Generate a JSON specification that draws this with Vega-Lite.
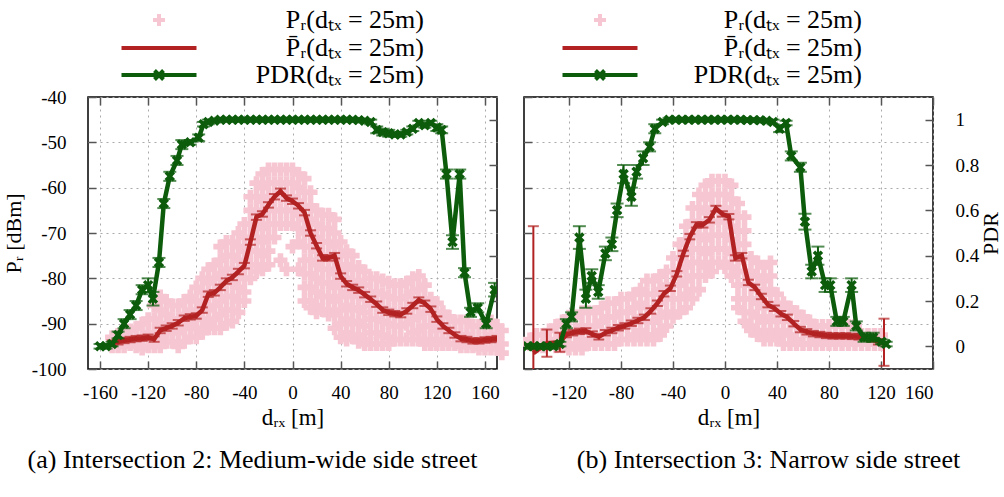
{
"$schema":"https://vega.github.io/schema/vega-lite/v6.json",
"padding":{"left":1,"top":6,"right":0,"bottom":0},
"background":"white",
"config":{"font":"Liberation Serif","view":{"stroke":"#000","strokeWidth":1.5},
"axis":{"labelFont":"Liberation Serif","labelFontSize":19,"labelColor":"#000","titleFont":"Liberation Serif","titleFontSize":23,"titleFontWeight":"normal","titleColor":"#000","domain":false,"tickColor":"#555","tickWidth":1.5,"tickSize":-8,"gridColor":"#aaa","gridDash":[2,4],"gridWidth":1,"labelOverlap":false,"labelBound":false},
"title":{"font":"Liberation Serif","fontSize":26,"fontWeight":"normal","color":"#000"}},
"datasets":{
"a_pr":[
{"d":-150,"p":-93},{"d":-150,"p":-95},
{"d":-145,"p":-92.5},{"d":-145,"p":-95},
{"d":-140,"p":-92},{"d":-140,"p":-95},
{"d":-135,"p":-91.5},{"d":-135,"p":-94.5},
{"d":-130,"p":-91},{"d":-130,"p":-94},{"d":-130,"p":-95},
{"d":-125,"p":-90},{"d":-125,"p":-93},{"d":-125,"p":-95.5},
{"d":-120,"p":-89},{"d":-120,"p":-92},{"d":-120,"p":-95},
{"d":-115,"p":-86},{"d":-115,"p":-89},{"d":-115,"p":-92},{"d":-115,"p":-95},
{"d":-110,"p":-84},{"d":-110,"p":-87},{"d":-110,"p":-90},{"d":-110,"p":-93},{"d":-110,"p":-95},
{"d":-105,"p":-85},{"d":-105,"p":-88},{"d":-105,"p":-91},{"d":-105,"p":-94},
{"d":-100,"p":-86},{"d":-100,"p":-89},{"d":-100,"p":-92},{"d":-100,"p":-94},
{"d":-95,"p":-86},{"d":-95,"p":-89},{"d":-95,"p":-92},{"d":-95,"p":-95},
{"d":-90,"p":-85},{"d":-90,"p":-88},{"d":-90,"p":-91},{"d":-90,"p":-94},
{"d":-85,"p":-84},{"d":-85,"p":-87},{"d":-85,"p":-90},{"d":-85,"p":-93},
{"d":-80,"p":-82},{"d":-80,"p":-85},{"d":-80,"p":-88},{"d":-80,"p":-91},{"d":-80,"p":-93},
{"d":-75,"p":-80},{"d":-75,"p":-83},{"d":-75,"p":-86},{"d":-75,"p":-89},{"d":-75,"p":-92},
{"d":-70,"p":-78},{"d":-70,"p":-81},{"d":-70,"p":-84},{"d":-70,"p":-87},{"d":-70,"p":-90},{"d":-70,"p":-91},
{"d":-65,"p":-77},{"d":-65,"p":-80},{"d":-65,"p":-83},{"d":-65,"p":-86},{"d":-65,"p":-89},{"d":-65,"p":-91},
{"d":-60,"p":-73},{"d":-60,"p":-76},{"d":-60,"p":-79},{"d":-60,"p":-82},{"d":-60,"p":-85},{"d":-60,"p":-88},{"d":-60,"p":-91},
{"d":-55,"p":-72},{"d":-55,"p":-75},{"d":-55,"p":-78},{"d":-55,"p":-81},{"d":-55,"p":-84},{"d":-55,"p":-87},{"d":-55,"p":-90},
{"d":-50,"p":-72},{"d":-50,"p":-75},{"d":-50,"p":-78},{"d":-50,"p":-81},{"d":-50,"p":-84},{"d":-50,"p":-87},{"d":-50,"p":-89.5},
{"d":-45,"p":-70},{"d":-45,"p":-73},{"d":-45,"p":-76},{"d":-45,"p":-79},{"d":-45,"p":-82},{"d":-45,"p":-85},{"d":-45,"p":-87.5},
{"d":-40,"p":-68},{"d":-40,"p":-71},{"d":-40,"p":-74},{"d":-40,"p":-77},{"d":-40,"p":-80},{"d":-40,"p":-83},{"d":-40,"p":-85},
{"d":-35,"p":-62},{"d":-35,"p":-65},{"d":-35,"p":-68},{"d":-35,"p":-71},{"d":-35,"p":-74},{"d":-35,"p":-77},{"d":-35,"p":-80},
{"d":-30,"p":-59},{"d":-30,"p":-62},{"d":-30,"p":-65},{"d":-30,"p":-68},{"d":-30,"p":-71},{"d":-30,"p":-74},{"d":-30,"p":-77},{"d":-30,"p":-78.5},
{"d":-25,"p":-57},{"d":-25,"p":-60},{"d":-25,"p":-63},{"d":-25,"p":-66},{"d":-25,"p":-69},{"d":-25,"p":-72},{"d":-25,"p":-75},{"d":-25,"p":-78},
{"d":-20,"p":-56},{"d":-20,"p":-59},{"d":-20,"p":-62},{"d":-20,"p":-65},{"d":-20,"p":-68},{"d":-20,"p":-71},{"d":-20,"p":-74},{"d":-20,"p":-77},
{"d":-15,"p":-56},{"d":-15,"p":-59},{"d":-15,"p":-62},{"d":-15,"p":-65},{"d":-15,"p":-68},{"d":-15,"p":-71},
{"d":-10,"p":-56},{"d":-10,"p":-59},{"d":-10,"p":-62},{"d":-10,"p":-65},{"d":-10,"p":-68},{"d":-10,"p":-76},
{"d":-5,"p":-56},{"d":-5,"p":-59},{"d":-5,"p":-62},{"d":-5,"p":-65},{"d":-5,"p":-68},{"d":-5,"p":-78},
{"d":0,"p":-56},{"d":0,"p":-59},{"d":0,"p":-62},{"d":0,"p":-65},{"d":0,"p":-68},{"d":0,"p":-73},
{"d":5,"p":-57},{"d":5,"p":-60},{"d":5,"p":-63},{"d":5,"p":-66},{"d":5,"p":-69},{"d":5,"p":-72},{"d":5,"p":-78},
{"d":10,"p":-58},{"d":10,"p":-61},{"d":10,"p":-64},{"d":10,"p":-67},{"d":10,"p":-70},{"d":10,"p":-73},{"d":10,"p":-76},{"d":10,"p":-79},{"d":10,"p":-82},{"d":10,"p":-85},
{"d":15,"p":-61},{"d":15,"p":-64},{"d":15,"p":-67},{"d":15,"p":-70},{"d":15,"p":-73},{"d":15,"p":-76},{"d":15,"p":-79},{"d":15,"p":-82},{"d":15,"p":-85},{"d":15,"p":-86.5},
{"d":20,"p":-65},{"d":20,"p":-68},{"d":20,"p":-71},{"d":20,"p":-74},{"d":20,"p":-77},{"d":20,"p":-80},{"d":20,"p":-83},{"d":20,"p":-86},{"d":20,"p":-87.5},
{"d":25,"p":-66},{"d":25,"p":-69},{"d":25,"p":-72},{"d":25,"p":-75},{"d":25,"p":-78},{"d":25,"p":-81},{"d":25,"p":-84},{"d":25,"p":-87},
{"d":30,"p":-66},{"d":30,"p":-69},{"d":30,"p":-72},{"d":30,"p":-75},{"d":30,"p":-78},{"d":30,"p":-81},{"d":30,"p":-84},{"d":30,"p":-87},{"d":30,"p":-88},
{"d":35,"p":-67},{"d":35,"p":-70},{"d":35,"p":-73},{"d":35,"p":-76},{"d":35,"p":-79},{"d":35,"p":-82},{"d":35,"p":-85},{"d":35,"p":-88},{"d":35,"p":-91},
{"d":40,"p":-72},{"d":40,"p":-75},{"d":40,"p":-78},{"d":40,"p":-81},{"d":40,"p":-84},{"d":40,"p":-87},{"d":40,"p":-90},{"d":40,"p":-93},
{"d":45,"p":-74},{"d":45,"p":-77},{"d":45,"p":-80},{"d":45,"p":-83},{"d":45,"p":-86},{"d":45,"p":-89},{"d":45,"p":-92},{"d":45,"p":-93.5},
{"d":50,"p":-75},{"d":50,"p":-78},{"d":50,"p":-81},{"d":50,"p":-84},{"d":50,"p":-87},{"d":50,"p":-90},{"d":50,"p":-93},
{"d":55,"p":-77.5},{"d":55,"p":-80.5},{"d":55,"p":-83.5},{"d":55,"p":-86.5},{"d":55,"p":-89.5},{"d":55,"p":-92.5},{"d":55,"p":-94},
{"d":60,"p":-78.5},{"d":60,"p":-81.5},{"d":60,"p":-84.5},{"d":60,"p":-87.5},{"d":60,"p":-90.5},{"d":60,"p":-93.5},{"d":60,"p":-94.5},
{"d":65,"p":-80},{"d":65,"p":-83},{"d":65,"p":-86},{"d":65,"p":-89},{"d":65,"p":-92},{"d":65,"p":-94.5},
{"d":70,"p":-80},{"d":70,"p":-83},{"d":70,"p":-86},{"d":70,"p":-89},{"d":70,"p":-92},{"d":70,"p":-94.5},
{"d":75,"p":-80.5},{"d":75,"p":-83.5},{"d":75,"p":-86.5},{"d":75,"p":-89.5},{"d":75,"p":-92.5},{"d":75,"p":-94.5},
{"d":80,"p":-81},{"d":80,"p":-84},{"d":80,"p":-87},{"d":80,"p":-90},{"d":80,"p":-93},{"d":80,"p":-94.5},
{"d":85,"p":-81.5},{"d":85,"p":-84.5},{"d":85,"p":-87.5},{"d":85,"p":-90.5},{"d":85,"p":-93.5},
{"d":90,"p":-81.5},{"d":90,"p":-84.5},{"d":90,"p":-87.5},{"d":90,"p":-90.5},{"d":90,"p":-93.5},
{"d":95,"p":-81},{"d":95,"p":-84},{"d":95,"p":-87},{"d":95,"p":-90},{"d":95,"p":-93.5},
{"d":100,"p":-80},{"d":100,"p":-83},{"d":100,"p":-86},{"d":100,"p":-89},{"d":100,"p":-92},{"d":100,"p":-93.5},
{"d":105,"p":-79.5},{"d":105,"p":-82.5},{"d":105,"p":-85.5},{"d":105,"p":-88.5},{"d":105,"p":-91.5},{"d":105,"p":-93.5},
{"d":110,"p":-81.5},{"d":110,"p":-84.5},{"d":110,"p":-87.5},{"d":110,"p":-90.5},{"d":110,"p":-93.5},{"d":110,"p":-94.5},
{"d":115,"p":-84.5},{"d":115,"p":-87.5},{"d":115,"p":-90.5},{"d":115,"p":-93.5},{"d":115,"p":-94.5},
{"d":120,"p":-85.5},{"d":120,"p":-88.5},{"d":120,"p":-91.5},{"d":120,"p":-94.5},
{"d":125,"p":-87.5},{"d":125,"p":-90.5},{"d":125,"p":-93.5},{"d":125,"p":-94.5},
{"d":130,"p":-88.5},{"d":130,"p":-91.5},{"d":130,"p":-94.5},
{"d":135,"p":-89.5},{"d":135,"p":-92.5},{"d":135,"p":-94.5},
{"d":140,"p":-89.5},{"d":140,"p":-92.5},{"d":140,"p":-95},
{"d":145,"p":-89.5},{"d":145,"p":-92.5},{"d":145,"p":-95},
{"d":150,"p":-90.5},{"d":150,"p":-93.5},{"d":150,"p":-95},
{"d":155,"p":-90.5},{"d":155,"p":-93.5},{"d":155,"p":-95.5},
{"d":160,"p":-90.5},{"d":160,"p":-93.5},{"d":160,"p":-95.5},
{"d":165,"p":-89.5},{"d":165,"p":-92.5},{"d":165,"p":-95.5},
{"d":170,"p":-90.5},{"d":170,"p":-93.5},{"d":170,"p":-95.5},
{"d":174,"p":-91.5},{"d":174,"p":-94.5},{"d":174,"p":-96.5}
],
"a_mean":[
{"d":-150,"m":-94.3,"e":0.6},{"d":-145,"m":-94.0,"e":0.6},{"d":-140,"m":-93.7,"e":0.6},{"d":-135,"m":-93.5,"e":0.6},{"d":-130,"m":-93.3,"e":0.6},{"d":-125,"m":-93.2,"e":0.6},{"d":-120,"m":-93.0,"e":0.6},{"d":-115,"m":-93.4,"e":0.6},{"d":-110,"m":-91.5,"e":0.6},{"d":-105,"m":-91.0,"e":0.6},{"d":-100,"m":-90.5,"e":0.6},{"d":-95,"m":-89.8,"e":0.6},{"d":-90,"m":-88.8,"e":0.6},{"d":-85,"m":-88.5,"e":0.6},{"d":-80,"m":-88.3,"e":0.6},{"d":-75,"m":-87.0,"e":0.6},{"d":-70,"m":-83.5,"e":0.6},{"d":-65,"m":-83.2,"e":0.6},{"d":-60,"m":-82.0,"e":0.6},{"d":-55,"m":-80.6,"e":0.6},{"d":-50,"m":-79.8,"e":0.6},{"d":-45,"m":-78.5,"e":0.6},{"d":-40,"m":-77.2,"e":0.6},{"d":-35,"m":-72.0,"e":0.6},{"d":-30,"m":-66.5,"e":0.6},{"d":-25,"m":-65.8,"e":0.6},{"d":-20,"m":-63.8,"e":0.6},{"d":-15,"m":-62.0,"e":0.6},{"d":-10,"m":-60.8,"e":0.6},{"d":-5,"m":-62.3,"e":0.6},{"d":0,"m":-63.0,"e":0.6},{"d":5,"m":-64.0,"e":0.6},{"d":10,"m":-65.5,"e":0.6},{"d":15,"m":-70.0,"e":0.6},{"d":20,"m":-72.8,"e":0.6},{"d":25,"m":-75.5,"e":0.6},{"d":30,"m":-75.5,"e":0.6},{"d":35,"m":-75.0,"e":0.6},{"d":40,"m":-79.5,"e":0.6},{"d":45,"m":-81.2,"e":0.6},{"d":50,"m":-82.0,"e":0.6},{"d":55,"m":-82.6,"e":0.6},{"d":60,"m":-83.6,"e":0.6},{"d":65,"m":-84.6,"e":0.6},{"d":70,"m":-85.7,"e":0.6},{"d":75,"m":-87.0,"e":0.6},{"d":80,"m":-87.5,"e":0.6},{"d":85,"m":-87.8,"e":0.6},{"d":90,"m":-88.0,"e":0.6},{"d":95,"m":-87.2,"e":0.6},{"d":100,"m":-86.0,"e":0.6},{"d":105,"m":-84.8,"e":0.6},{"d":110,"m":-85.5,"e":0.6},{"d":115,"m":-86.8,"e":0.6},{"d":120,"m":-89.0,"e":0.6},{"d":125,"m":-90.5,"e":0.6},{"d":130,"m":-91.5,"e":0.6},{"d":135,"m":-92.5,"e":0.6},{"d":140,"m":-93.3,"e":0.6},{"d":145,"m":-93.5,"e":0.6},{"d":150,"m":-93.8,"e":0.6},{"d":155,"m":-93.8,"e":0.6},{"d":160,"m":-93.6,"e":0.6},{"d":165,"m":-93.5,"e":0.6},{"d":170,"m":-93.3,"e":0.6}
],
"a_pdr":[
{"d":-160,"v":0.0,"e":0.01},{"d":-155,"v":0.0,"e":0.01},{"d":-150,"v":0.01,"e":0.01},{"d":-145,"v":0.05,"e":0.015},{"d":-140,"v":0.10,"e":0.02},{"d":-135,"v":0.14,"e":0.02},{"d":-130,"v":0.18,"e":0.02},{"d":-125,"v":0.25,"e":0.02},{"d":-120,"v":0.27,"e":0.03},{"d":-116,"v":0.21,"e":0.03},{"d":-111,"v":0.37,"e":0.02},{"d":-107,"v":0.63,"e":0.02},{"d":-102,"v":0.75,"e":0.02},{"d":-96,"v":0.82,"e":0.02},{"d":-92,"v":0.89,"e":0.02},{"d":-85,"v":0.90,"e":0.01},{"d":-78,"v":0.92,"e":0.015},{"d":-74,"v":0.98,"e":0.01},{"d":-70,"v":0.99,"e":0.01},{"d":-65,"v":0.995,"e":0.008},{"d":-60,"v":1.0,"e":0.008},{"d":-55,"v":1.0,"e":0.008},{"d":-50,"v":1.0,"e":0.008},{"d":-45,"v":1.0,"e":0.008},{"d":-40,"v":1.0,"e":0.008},{"d":-35,"v":1.0,"e":0.008},{"d":-30,"v":1.0,"e":0.008},{"d":-25,"v":1.0,"e":0.008},{"d":-20,"v":1.0,"e":0.008},{"d":-15,"v":1.0,"e":0.008},{"d":-10,"v":1.0,"e":0.008},{"d":-5,"v":1.0,"e":0.008},{"d":0,"v":1.0,"e":0.008},{"d":5,"v":1.0,"e":0.008},{"d":10,"v":1.0,"e":0.008},{"d":15,"v":1.0,"e":0.008},{"d":20,"v":1.0,"e":0.008},{"d":25,"v":1.0,"e":0.008},{"d":30,"v":1.0,"e":0.008},{"d":35,"v":1.0,"e":0.008},{"d":40,"v":1.0,"e":0.008},{"d":45,"v":1.0,"e":0.008},{"d":50,"v":1.0,"e":0.008},{"d":55,"v":0.998,"e":0.008},{"d":60,"v":0.995,"e":0.008},{"d":65,"v":0.99,"e":0.01},{"d":70,"v":0.955,"e":0.015},{"d":75,"v":0.945,"e":0.015},{"d":80,"v":0.94,"e":0.015},{"d":85,"v":0.935,"e":0.01},{"d":90,"v":0.935,"e":0.01},{"d":95,"v":0.945,"e":0.01},{"d":100,"v":0.96,"e":0.01},{"d":105,"v":0.985,"e":0.01},{"d":110,"v":0.975,"e":0.01},{"d":115,"v":0.985,"e":0.01},{"d":120,"v":0.965,"e":0.015},{"d":124,"v":0.955,"e":0.015},{"d":128,"v":0.76,"e":0.02},{"d":133,"v":0.46,"e":0.03},{"d":139,"v":0.76,"e":0.02},{"d":143,"v":0.325,"e":0.02},{"d":148,"v":0.15,"e":0.02},{"d":154,"v":0.17,"e":0.02},{"d":161,"v":0.10,"e":0.02},{"d":168,"v":0.25,"e":0.03}
],
"b_pr":[
{"d":-150,"p":-93.5},{"d":-150,"p":-94.5},
{"d":-145,"p":-92.5},{"d":-145,"p":-95},
{"d":-140,"p":-92.5},{"d":-140,"p":-95},
{"d":-135,"p":-91.5},{"d":-135,"p":-94.5},
{"d":-130,"p":-90.5},{"d":-130,"p":-93.5},{"d":-130,"p":-95},
{"d":-125,"p":-89.5},{"d":-125,"p":-92.5},{"d":-125,"p":-95},
{"d":-120,"p":-88.5},{"d":-120,"p":-91.5},{"d":-120,"p":-94.5},{"d":-120,"p":-95.5},
{"d":-115,"p":-88.5},{"d":-115,"p":-91.5},{"d":-115,"p":-94.5},{"d":-115,"p":-95.5},
{"d":-110,"p":-87.5},{"d":-110,"p":-90.5},{"d":-110,"p":-93.5},{"d":-110,"p":-95.5},
{"d":-105,"p":-87.5},{"d":-105,"p":-90.5},{"d":-105,"p":-93.5},{"d":-105,"p":-94.5},
{"d":-100,"p":-87.5},{"d":-100,"p":-90.5},{"d":-100,"p":-93.5},{"d":-100,"p":-94.5},
{"d":-95,"p":-86.5},{"d":-95,"p":-89.5},{"d":-95,"p":-92.5},{"d":-95,"p":-94.5},
{"d":-90,"p":-85.5},{"d":-90,"p":-88.5},{"d":-90,"p":-91.5},{"d":-90,"p":-94.5},
{"d":-85,"p":-85.5},{"d":-85,"p":-88.5},{"d":-85,"p":-91.5},{"d":-85,"p":-94.5},
{"d":-80,"p":-84.5},{"d":-80,"p":-87.5},{"d":-80,"p":-90.5},{"d":-80,"p":-93.5},
{"d":-75,"p":-84.5},{"d":-75,"p":-87.5},{"d":-75,"p":-90.5},{"d":-75,"p":-93.5},
{"d":-70,"p":-83.5},{"d":-70,"p":-86.5},{"d":-70,"p":-89.5},{"d":-70,"p":-92.5},{"d":-70,"p":-93.5},
{"d":-65,"p":-82.5},{"d":-65,"p":-85.5},{"d":-65,"p":-88.5},{"d":-65,"p":-91.5},{"d":-65,"p":-93.5},
{"d":-60,"p":-80.5},{"d":-60,"p":-83.5},{"d":-60,"p":-86.5},{"d":-60,"p":-89.5},{"d":-60,"p":-92.5},{"d":-60,"p":-93.5},
{"d":-55,"p":-80.5},{"d":-55,"p":-83.5},{"d":-55,"p":-86.5},{"d":-55,"p":-89.5},{"d":-55,"p":-92.5},{"d":-55,"p":-93.5},
{"d":-50,"p":-79.5},{"d":-50,"p":-82.5},{"d":-50,"p":-85.5},{"d":-50,"p":-88.5},{"d":-50,"p":-91.5},{"d":-50,"p":-92.5},
{"d":-45,"p":-78.5},{"d":-45,"p":-81.5},{"d":-45,"p":-84.5},{"d":-45,"p":-87.5},{"d":-45,"p":-90.5},
{"d":-40,"p":-75.5},{"d":-40,"p":-78.5},{"d":-40,"p":-81.5},{"d":-40,"p":-84.5},{"d":-40,"p":-87.5},{"d":-40,"p":-88.5},
{"d":-35,"p":-72.5},{"d":-35,"p":-75.5},{"d":-35,"p":-78.5},{"d":-35,"p":-81.5},{"d":-35,"p":-84.5},{"d":-35,"p":-87.5},
{"d":-30,"p":-68.5},{"d":-30,"p":-71.5},{"d":-30,"p":-74.5},{"d":-30,"p":-77.5},{"d":-30,"p":-80.5},{"d":-30,"p":-83.5},{"d":-30,"p":-86.5},
{"d":-25,"p":-64.5},{"d":-25,"p":-67.5},{"d":-25,"p":-70.5},{"d":-25,"p":-73.5},{"d":-25,"p":-76.5},{"d":-25,"p":-79.5},{"d":-25,"p":-82.5},{"d":-25,"p":-84.5},
{"d":-20,"p":-61.5},{"d":-20,"p":-64.5},{"d":-20,"p":-67.5},{"d":-20,"p":-70.5},{"d":-20,"p":-73.5},{"d":-20,"p":-76.5},{"d":-20,"p":-79.5},{"d":-20,"p":-82.5},
{"d":-15,"p":-59.5},{"d":-15,"p":-62.5},{"d":-15,"p":-65.5},{"d":-15,"p":-68.5},{"d":-15,"p":-71.5},{"d":-15,"p":-74.5},{"d":-15,"p":-77.5},{"d":-15,"p":-79.5},
{"d":-10,"p":-58.5},{"d":-10,"p":-61.5},{"d":-10,"p":-64.5},{"d":-10,"p":-67.5},{"d":-10,"p":-70.5},{"d":-10,"p":-73.5},{"d":-10,"p":-76.5},{"d":-10,"p":-78.5},
{"d":-5,"p":-58.5},{"d":-5,"p":-61.5},{"d":-5,"p":-64.5},{"d":-5,"p":-67.5},{"d":-5,"p":-70.5},{"d":-5,"p":-73.5},{"d":-5,"p":-76.5},
{"d":0,"p":-58.5},{"d":0,"p":-61.5},{"d":0,"p":-64.5},{"d":0,"p":-67.5},{"d":0,"p":-70.5},{"d":0,"p":-73.5},{"d":0,"p":-76.5},{"d":0,"p":-77.5},
{"d":5,"p":-59.5},{"d":5,"p":-62.5},{"d":5,"p":-65.5},{"d":5,"p":-68.5},{"d":5,"p":-71.5},{"d":5,"p":-74.5},{"d":5,"p":-77.5},{"d":5,"p":-79.5},
{"d":10,"p":-63.5},{"d":10,"p":-66.5},{"d":10,"p":-69.5},{"d":10,"p":-72.5},{"d":10,"p":-75.5},{"d":10,"p":-78.5},{"d":10,"p":-81.5},{"d":10,"p":-84.5},{"d":10,"p":-86.5},
{"d":15,"p":-66.5},{"d":15,"p":-69.5},{"d":15,"p":-72.5},{"d":15,"p":-75.5},{"d":15,"p":-78.5},{"d":15,"p":-81.5},{"d":15,"p":-84.5},{"d":15,"p":-87.5},{"d":15,"p":-89.5},
{"d":20,"p":-75.5},{"d":20,"p":-78.5},{"d":20,"p":-81.5},{"d":20,"p":-84.5},{"d":20,"p":-87.5},{"d":20,"p":-90.5},{"d":20,"p":-91.5},
{"d":25,"p":-76.5},{"d":25,"p":-79.5},{"d":25,"p":-82.5},{"d":25,"p":-85.5},{"d":25,"p":-88.5},{"d":25,"p":-91.5},{"d":25,"p":-92.5},
{"d":30,"p":-77.5},{"d":30,"p":-80.5},{"d":30,"p":-83.5},{"d":30,"p":-86.5},{"d":30,"p":-89.5},{"d":30,"p":-92.5},{"d":30,"p":-93.5},
{"d":35,"p":-76.5},{"d":35,"p":-79.5},{"d":35,"p":-82.5},{"d":35,"p":-85.5},{"d":35,"p":-88.5},{"d":35,"p":-91.5},{"d":35,"p":-93.5},
{"d":40,"p":-83.5},{"d":40,"p":-86.5},{"d":40,"p":-89.5},{"d":40,"p":-92.5},{"d":40,"p":-93.5},
{"d":45,"p":-85.5},{"d":45,"p":-88.5},{"d":45,"p":-91.5},{"d":45,"p":-94.5},
{"d":50,"p":-86.5},{"d":50,"p":-89.5},{"d":50,"p":-92.5},{"d":50,"p":-94.5},
{"d":55,"p":-87.5},{"d":55,"p":-90.5},{"d":55,"p":-93.5},{"d":55,"p":-94.5},
{"d":60,"p":-88.5},{"d":60,"p":-91.5},{"d":60,"p":-94.5},
{"d":65,"p":-89.5},{"d":65,"p":-92.5},{"d":65,"p":-94.5},
{"d":70,"p":-90.5},{"d":70,"p":-93.5},{"d":70,"p":-94.5},
{"d":75,"p":-90.5},{"d":75,"p":-93.5},{"d":75,"p":-94.5},
{"d":80,"p":-90.5},{"d":80,"p":-93.5},{"d":80,"p":-94.5},
{"d":85,"p":-90.5},{"d":85,"p":-93.5},{"d":85,"p":-94.5},
{"d":90,"p":-90.5},{"d":90,"p":-93.5},{"d":90,"p":-94.5},
{"d":95,"p":-90.5},{"d":95,"p":-93.5},{"d":95,"p":-94.5},
{"d":100,"p":-90.5},{"d":100,"p":-93.5},{"d":100,"p":-94.5},
{"d":105,"p":-92.5},{"d":105,"p":-94.5},
{"d":110,"p":-92.5},{"d":110,"p":-94.5},
{"d":115,"p":-92.5},{"d":115,"p":-94.5},
{"d":120,"p":-92.5},{"d":120,"p":-94.5}
],
"b_mean":[
{"d":-147.4,"m":-96.5,"e":28},{"d":-137,"m":-94.3,"e":3},{"d":-127,"m":-94.1,"e":2.1},{"d":-122,"m":-92.4,"e":0.6},{"d":-117,"m":-92.0,"e":0.6},{"d":-112,"m":-91.7,"e":0.6},{"d":-107,"m":-91.6,"e":0.6},{"d":-102,"m":-92.3,"e":0.6},{"d":-97,"m":-92.9,"e":0.6},{"d":-92,"m":-92.0,"e":0.6},{"d":-87,"m":-91.5,"e":0.6},{"d":-82,"m":-90.9,"e":0.6},{"d":-77,"m":-90.5,"e":0.6},{"d":-72,"m":-89.9,"e":0.6},{"d":-67,"m":-89.3,"e":0.6},{"d":-62,"m":-88.6,"e":0.6},{"d":-57,"m":-87.2,"e":0.6},{"d":-52,"m":-85.5,"e":0.6},{"d":-47,"m":-83.4,"e":0.6},{"d":-42,"m":-82.2,"e":0.6},{"d":-37,"m":-79.0,"e":0.6},{"d":-32,"m":-74.5,"e":0.6},{"d":-27,"m":-70.8,"e":0.6},{"d":-22,"m":-68.2,"e":0.6},{"d":-17,"m":-68.2,"e":0.6},{"d":-12,"m":-67.1,"e":0.6},{"d":-7,"m":-64.6,"e":0.6},{"d":-2,"m":-65.8,"e":0.6},{"d":3,"m":-66.4,"e":0.6},{"d":8,"m":-75.5,"e":0.6},{"d":13,"m":-75.0,"e":0.6},{"d":18,"m":-80.9,"e":0.6},{"d":23,"m":-82.0,"e":0.6},{"d":28,"m":-84.0,"e":0.6},{"d":33,"m":-85.8,"e":0.6},{"d":38,"m":-86.6,"e":0.6},{"d":43,"m":-87.8,"e":0.6},{"d":48,"m":-88.6,"e":0.6},{"d":53,"m":-90.0,"e":0.6},{"d":58,"m":-91.3,"e":0.6},{"d":63,"m":-91.8,"e":0.6},{"d":68,"m":-92.2,"e":0.6},{"d":73,"m":-92.4,"e":0.6},{"d":78,"m":-92.6,"e":0.6},{"d":83,"m":-92.7,"e":0.6},{"d":88,"m":-92.7,"e":0.6},{"d":93,"m":-92.7,"e":0.6},{"d":98,"m":-92.8,"e":0.6},{"d":103,"m":-92.9,"e":0.6},{"d":108,"m":-93.1,"e":0.6},{"d":113,"m":-93.4,"e":0.6},{"d":118,"m":-94.0,"e":0.6},{"d":122.3,"m":-94.1,"e":5.2}
],
"b_pdr":[
{"d":-152,"v":0.0,"e":0.01},{"d":-147,"v":0.0,"e":0.01},{"d":-142,"v":0.0,"e":0.01},{"d":-137,"v":0.0,"e":0.01},{"d":-132,"v":0.0,"e":0.01},{"d":-127,"v":0.01,"e":0.01},{"d":-122,"v":0.10,"e":0.02},{"d":-118,"v":0.13,"e":0.02},{"d":-112,"v":0.48,"e":0.05},{"d":-107,"v":0.21,"e":0.04},{"d":-102.5,"v":0.31,"e":0.03},{"d":-97.5,"v":0.24,"e":0.03},{"d":-92,"v":0.41,"e":0.03},{"d":-87,"v":0.45,"e":0.03},{"d":-83,"v":0.60,"e":0.03},{"d":-78,"v":0.76,"e":0.04},{"d":-72,"v":0.66,"e":0.04},{"d":-68,"v":0.77,"e":0.03},{"d":-63,"v":0.83,"e":0.03},{"d":-58,"v":0.88,"e":0.02},{"d":-54,"v":0.96,"e":0.02},{"d":-48,"v":0.99,"e":0.01},{"d":-43,"v":1.0,"e":0.008},{"d":-38,"v":1.0,"e":0.008},{"d":-33,"v":1.0,"e":0.008},{"d":-28,"v":1.0,"e":0.008},{"d":-23,"v":1.0,"e":0.008},{"d":-18,"v":1.0,"e":0.008},{"d":-13,"v":1.0,"e":0.008},{"d":-8,"v":1.0,"e":0.008},{"d":-3,"v":1.0,"e":0.008},{"d":2,"v":1.0,"e":0.008},{"d":7,"v":1.0,"e":0.008},{"d":12,"v":1.0,"e":0.008},{"d":17,"v":0.998,"e":0.008},{"d":22,"v":0.998,"e":0.008},{"d":27,"v":0.997,"e":0.008},{"d":32,"v":0.995,"e":0.008},{"d":37,"v":0.99,"e":0.01},{"d":42,"v":0.96,"e":0.015},{"d":47,"v":0.985,"e":0.01},{"d":51,"v":0.84,"e":0.02},{"d":58,"v":0.79,"e":0.02},{"d":61.5,"v":0.55,"e":0.035},{"d":66.7,"v":0.33,"e":0.03},{"d":71.5,"v":0.40,"e":0.04},{"d":77,"v":0.27,"e":0.03},{"d":81,"v":0.27,"e":0.03},{"d":86,"v":0.11,"e":0.02},{"d":91,"v":0.11,"e":0.02},{"d":97.4,"v":0.27,"e":0.03},{"d":101,"v":0.09,"e":0.02},{"d":107,"v":0.04,"e":0.02},{"d":114,"v":0.04,"e":0.02},{"d":120.5,"v":0.02,"e":0.01},{"d":124,"v":0.01,"e":0.01}
]
},
"bounds":"flush",
"spacing":27,
"resolve":{"scale":{"x":"independent","y":"independent","color":"independent"},"legend":{"color":"independent"}},
"hconcat":[
{
"width":409,"height":272,
"title":{"text":"(a) Intersection 2: Medium-wide side street","orient":"bottom","anchor":"middle","dx":-40,"offset":18},
"layer":[
{"layer":[
{"data":{"name":"a_pr"},"mark":{"type":"point","shape":"cross","filled":true,"size":196,"opacity":1,"clip":false},
"encoding":{
"x":{"field":"d","type":"quantitative","title":"dᵣₓ [m]","scale":{"domain":[-170,170],"nice":false,"zero":false},
"axis":{"orient":"bottom","values":[-160,-120,-80,-40,0,40,80,120,160],"labelExpr":"'' + datum.value","grid":true,"labelPadding":22,"title":"dᵣₓ [m]","titlePadding":4}},
"y":{"field":"p","type":"quantitative","title":"Pᵣ [dBm]","scale":{"domain":[-100,-40],"nice":false,"zero":false},
"axis":{"orient":"left","values":[-100,-95,-90,-85,-80,-75,-70,-65,-60,-55,-50,-45,-40],"labelExpr":"datum.value % 10 == 0 ? '' + datum.value : ''","grid":true,"labelPadding":30,"title":"Pᵣ [dBm]","titleFontSize":22,"titlePadding":6}},
"color":{"datum":"Pᵣ(dₜₓ = 25m)","type":"nominal","scale":{"domain":["Pᵣ(dₜₓ = 25m)","P̄ᵣ(dₜₓ = 25m)","PDR(dₜₓ = 25m)"],"range":["#f6c6d2","#b22222","#0c5c0c"]},
"legend":{"orient":"none","legendX":58,"legendY":-90,"title":null,"padding":0,"symbolSize":100,"symbolStrokeWidth":4,"rowPadding":1,"labelFont":"Liberation Serif","labelFontSize":26,"labelColor":"#000","labelAlign":"right","labelOffset":252,"labelLimit":500,
"encoding":{"symbols":{"shape":{"value":{"expr":"indexof(datum.value,'PDR') == 0 ? 'M-7.5,0H7.5M-0.9,-0.9L0.9,0.9M-0.9,0.9L0.9,-0.9' : (indexof(datum.value,'P̄') == 0 ? 'M-7.5,0H7.5' : 'M-1.2,0H1.2M0,-1.2V1.2')"}},"stroke":{"value":{"expr":"indexof(datum.value,'PDR') == 0 ? '#0c5c0c' : (indexof(datum.value,'P̄') == 0 ? '#b22222' : '#f6c6d2')"}},"fill":{"value":"transparent"},"strokeWidth":{"value":4},"opacity":{"value":1}}}}}
}},
{"data":{"name":"a_mean"},"mark":{"type":"errorbar","ticks":{"size":11,"thickness":2},"thickness":2,"color":"#b22222","clip":true},
"encoding":{"x":{"field":"d","type":"quantitative","title":"dᵣₓ [m]"},"y":{"field":"m","type":"quantitative","title":"Pᵣ [dBm]"},"yError":{"field":"e"}}},
{"data":{"name":"a_mean"},"mark":{"type":"line","strokeWidth":4.5,"clip":true},
"encoding":{"x":{"field":"d","type":"quantitative","title":"dᵣₓ [m]"},"y":{"field":"m","type":"quantitative","title":"Pᵣ [dBm]"},"color":{"datum":"P̄ᵣ(dₜₓ = 25m)","type":"nominal"}}}
]},
{"layer":[
{"data":{"name":"a_pdr"},"mark":{"type":"errorbar","ticks":{"size":13,"thickness":2},"thickness":2,"color":"#0c5c0c","clip":true},
"encoding":{"x":{"field":"d","type":"quantitative","title":null,"scale":{"domain":[-170,170],"nice":false,"zero":false},"axis":{"orient":"top","values":[-160,-120,-80,-40,0,40,80,120,160],"labels":false,"grid":false,"title":null}},
"y":{"field":"v","type":"quantitative","title":null,"scale":{"domain":[-0.1,1.1],"nice":false,"zero":false},"axis":{"orient":"right","values":[0,0.1,0.2,0.3,0.4,0.5,0.6,0.7,0.8,0.9,1],"labels":false,"grid":false,"title":null}},"yError":{"field":"e"}}},
{"data":{"name":"a_pdr"},"mark":{"type":"line","strokeWidth":4.5,"clip":true},
"encoding":{"x":{"field":"d","type":"quantitative","title":null},"y":{"field":"v","type":"quantitative","title":null},"color":{"datum":"PDR(dₜₓ = 25m)","type":"nominal"}}},
{"data":{"name":"a_pdr"},"mark":{"type":"point","shape":"M-1,-1L1,1M-1,1L1,-1","filled":false,"size":64,"strokeWidth":3.5,"opacity":1,"color":"#0c5c0c","clip":true},
"encoding":{"x":{"field":"d","type":"quantitative","title":null},"y":{"field":"v","type":"quantitative","title":null}}}
]}
],
"resolve":{"scale":{"x":"independent","y":"independent"}}
},
{
"width":409,"height":272,
"title":{"text":"(b) Intersection 3: Narrow side street","orient":"bottom","anchor":"middle","dx":40,"offset":18},
"layer":[
{"layer":[
{"data":{"name":"b_pr"},"mark":{"type":"point","shape":"cross","filled":true,"size":196,"opacity":1,"clip":false},
"encoding":{
"x":{"field":"d","type":"quantitative","title":"dᵣₓ [m]","scale":{"domain":[-154.6,160],"nice":false,"zero":false},
"axis":{"orient":"bottom","values":[-120,-80,-40,0,40,80,120,160],"labelExpr":"'' + datum.value","grid":true,"labelPadding":22,"title":"dᵣₓ [m]","titlePadding":4}},
"y":{"field":"p","type":"quantitative","title":null,"scale":{"domain":[-100,-40],"nice":false,"zero":false},
"axis":{"orient":"left","values":[-100,-95,-90,-85,-80,-75,-70,-65,-60,-55,-50,-45,-40],"labels":false,"grid":true,"title":null}},
"color":{"datum":"Pᵣ(dₜₓ = 25m)","type":"nominal","scale":{"domain":["Pᵣ(dₜₓ = 25m)","P̄ᵣ(dₜₓ = 25m)","PDR(dₜₓ = 25m)"],"range":["#f6c6d2","#b22222","#0c5c0c"]},
"legend":{"orient":"none","legendX":63,"legendY":-90,"title":null,"padding":0,"symbolSize":100,"symbolStrokeWidth":4,"rowPadding":1,"labelFont":"Liberation Serif","labelFontSize":26,"labelColor":"#000","labelAlign":"right","labelOffset":249,"labelLimit":500,
"encoding":{"symbols":{"shape":{"value":{"expr":"indexof(datum.value,'PDR') == 0 ? 'M-7.5,0H7.5M-0.9,-0.9L0.9,0.9M-0.9,0.9L0.9,-0.9' : (indexof(datum.value,'P̄') == 0 ? 'M-7.5,0H7.5' : 'M-1.2,0H1.2M0,-1.2V1.2')"}},"stroke":{"value":{"expr":"indexof(datum.value,'PDR') == 0 ? '#0c5c0c' : (indexof(datum.value,'P̄') == 0 ? '#b22222' : '#f6c6d2')"}},"fill":{"value":"transparent"},"strokeWidth":{"value":4},"opacity":{"value":1}}}}}
}},
{"data":{"name":"b_mean"},"mark":{"type":"errorbar","ticks":{"size":11,"thickness":2},"thickness":2,"color":"#b22222","clip":true},
"encoding":{"x":{"field":"d","type":"quantitative","title":"dᵣₓ [m]"},"y":{"field":"m","type":"quantitative","title":null},"yError":{"field":"e"}}},
{"data":{"name":"b_mean"},"mark":{"type":"line","strokeWidth":4.5,"clip":true},
"encoding":{"x":{"field":"d","type":"quantitative","title":"dᵣₓ [m]"},"y":{"field":"m","type":"quantitative","title":null},"color":{"datum":"P̄ᵣ(dₜₓ = 25m)","type":"nominal"}}}
]},
{"layer":[
{"data":{"name":"b_pdr"},"mark":{"type":"errorbar","ticks":{"size":13,"thickness":2},"thickness":2,"color":"#0c5c0c","clip":true},
"encoding":{"x":{"field":"d","type":"quantitative","title":null,"scale":{"domain":[-154.6,160],"nice":false,"zero":false},"axis":{"orient":"top","values":[-120,-80,-40,0,40,80,120,160],"labels":false,"grid":false,"title":null}},
"y":{"field":"v","type":"quantitative","title":"PDR","scale":{"domain":[-0.1,1.1],"nice":false,"zero":false},"axis":{"orient":"right","values":[0,0.1,0.2,0.3,0.4,0.5,0.6,0.7,0.8,0.9,1],"labelExpr":"round(datum.value*10) % 2 == 0 ? '' + datum.value : ''","labelPadding":30,"labelAlign":"left","grid":false,"title":"PDR","titleFontSize":22,"titleAngle":270,"titlePadding":24}},"yError":{"field":"e"}}},
{"data":{"name":"b_pdr"},"mark":{"type":"line","strokeWidth":4.5,"clip":true},
"encoding":{"x":{"field":"d","type":"quantitative","title":null},"y":{"field":"v","type":"quantitative","title":"PDR"},"color":{"datum":"PDR(dₜₓ = 25m)","type":"nominal"}}},
{"data":{"name":"b_pdr"},"mark":{"type":"point","shape":"M-1,-1L1,1M-1,1L1,-1","filled":false,"size":64,"strokeWidth":3.5,"opacity":1,"color":"#0c5c0c","clip":true},
"encoding":{"x":{"field":"d","type":"quantitative","title":null},"y":{"field":"v","type":"quantitative","title":"PDR"}}}
]}
],
"resolve":{"scale":{"x":"independent","y":"independent"}}
}
]
}
